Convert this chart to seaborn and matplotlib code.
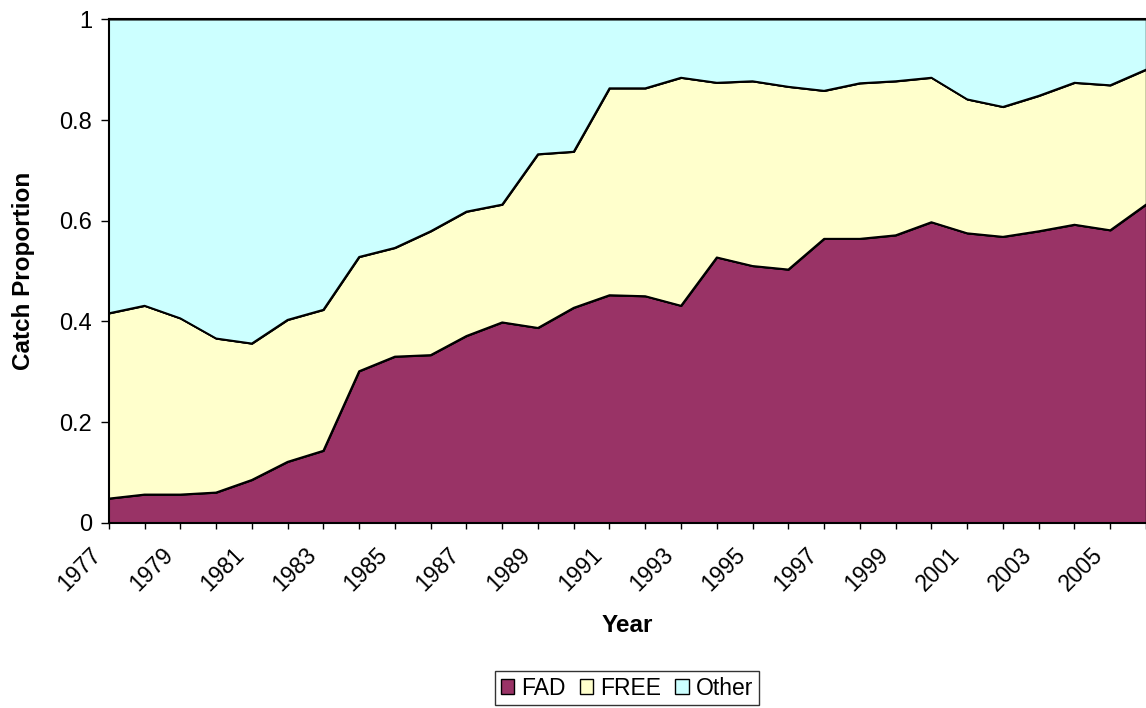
import matplotlib
matplotlib.use("Agg")
import matplotlib.pyplot as plt
import matplotlib.transforms as mtransforms
import numpy as np
import pandas as pd
import seaborn as sns

years = list(range(1977, 2007))
fad = [0.048, 0.056, 0.056, 0.060, 0.085, 0.121, 0.143, 0.301, 0.330, 0.333,
       0.371, 0.398, 0.387, 0.427, 0.452, 0.450, 0.431, 0.527, 0.510, 0.503,
       0.564, 0.564, 0.571, 0.597, 0.575, 0.568, 0.579, 0.592, 0.581, 0.632]
free = [0.368, 0.375, 0.350, 0.306, 0.271, 0.282, 0.280, 0.227, 0.216, 0.246,
        0.247, 0.234, 0.345, 0.310, 0.411, 0.413, 0.453, 0.347, 0.367, 0.363,
        0.294, 0.309, 0.306, 0.287, 0.266, 0.258, 0.269, 0.282, 0.288, 0.268]
other = [0.584, 0.569, 0.594, 0.634, 0.644, 0.597, 0.577, 0.472, 0.454, 0.421,
         0.382, 0.368, 0.268, 0.263, 0.137, 0.137, 0.116, 0.126, 0.123, 0.134,
         0.142, 0.127, 0.123, 0.116, 0.159, 0.174, 0.152, 0.126, 0.131, 0.100]
series = ["FAD", "FREE", "Other"]
colors = ["#993366", "#FFFFCC", "#CCFFFF"]

sns.set_style("white")
plt.rcParams['font.family'] = ['Liberation Sans', 'DejaVu Sans']
plt.rcParams['text.color'] = 'black'
plt.rcParams['axes.labelcolor'] = 'black'
plt.rcParams['xtick.color'] = 'black'
plt.rcParams['ytick.color'] = 'black'

df = pd.DataFrame({"Year": years, "FAD": fad, "FREE": free, "Other": other})

fig = plt.figure(figsize=(11.46, 7.08), dpi=100)
ax = fig.add_axes([0.0949, 0.2617, 0.9051, 0.711])

ax.stackplot(df["Year"], df["FAD"], df["FREE"], df["Other"],
             colors=colors, labels=series, edgecolor="none")

# boundary lines between the bands
cum = df[series].cumsum(axis=1)
for s in series[:2]:
    sns.lineplot(x=df["Year"], y=cum[s], ax=ax, color="black", lw=1.4,
                 legend=False)

ax.set_xlim(1977, 2006)
ax.set_ylim(0, 1)
ax.set_xticks(years)
ax.set_xticklabels([str(y) if (y - 1977) % 2 == 0 else "" for y in years],
                   rotation=45, ha="right", rotation_mode="anchor")
ax.set_yticks(np.arange(0, 1.01, 0.2))
ax.set_yticklabels(["0", "0.2", "0.4", "0.6", "0.8", "1"])
ax.tick_params(axis="x", direction="out", length=4.5, width=1,
               labelsize=16.5, pad=8, bottom=True)
ax.tick_params(axis="y", direction="out", length=6, width=1,
               labelsize=17, pad=6, left=True)

# nudge rotated year labels down-left like the original
shift = mtransforms.ScaledTranslation(-0.19, -0.03, fig.dpi_scale_trans)
for lab in ax.get_xticklabels():
    lab.set_transform(lab.get_transform() + shift)

for side in ["left", "bottom", "top"]:
    ax.spines[side].set_color("black")
    ax.spines[side].set_linewidth(1.5)
ax.spines["right"].set_visible(False)

ax.set_xlabel("Year", fontsize=17.5, fontweight="bold", va="center")
ax.set_ylabel("Catch Proportion", fontsize=17.5, fontweight="bold", va="center")
ax.xaxis.set_label_coords(0.5, -0.205)
ax.yaxis.set_label_coords(-0.082, 0.5)

handles, labels = ax.get_legend_handles_labels()
for h in handles:
    h.set_edgecolor("black")
    h.set_linewidth(1)
leg = fig.legend(handles, labels, loc="center", bbox_to_anchor=(0.547, 0.028),
                 ncol=3, fontsize=16.5, frameon=True, fancybox=False,
                 handlelength=0.6, handleheight=0.6, handletextpad=0.3,
                 columnspacing=0.6, borderpad=0.25, borderaxespad=0)
leg.get_frame().set_edgecolor("black")
leg.get_frame().set_linewidth(1)

fig.savefig("out.png", dpi=100)
